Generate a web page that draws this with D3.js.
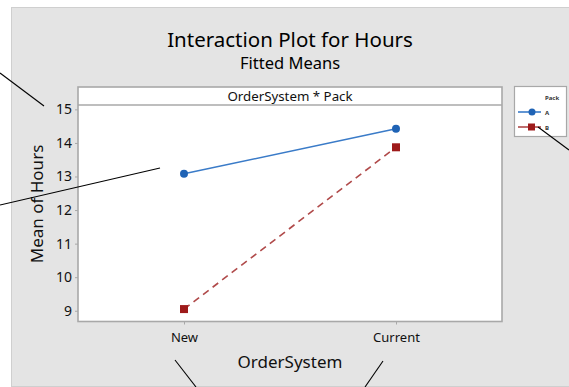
<!DOCTYPE html>
<html>
<head>
<meta charset="utf-8">
<script src="https://cdn.jsdelivr.net/npm/d3@7"></script>
<style>
  html, body { margin: 0; padding: 0; background: #ffffff; }
  svg { display: block; font-family: "Noto Sans", "Open Sans", sans-serif; }
</style>
</head>
<body>
<svg id="chart" width="569" height="387"></svg>
<script>
// Fitted means of Hours by OrderSystem, one line per Pack level
const orderSystems = ["New", "Current"];
const packLevels = ["A", "B"];
const meansA = [13.08, 14.42];
const meansB = [9.05, 13.87];
const yTicks = [9, 10, 11, 12, 13, 14, 15];

const seriesColors = { A: "#1f63b5", B: "#9e1a1a" };
const lineColors = { A: "#3a7bc8", B: "#b04a4a" };

const svg = d3.select("#chart");
const W = 569, H = 387;

// outer grey frame
svg.append("rect")
  .attr("x", 11.5).attr("y", 7.5)
  .attr("width", W - 11).attr("height", 379)
  .attr("fill", "#e4e4e4").attr("stroke", "#cfcfcf").attr("stroke-width", 1);

// plotting region
const plot = { left: 78, right: 502, top: 105, bottom: 321.5, stripTop: 87 };

const x = d3.scalePoint().domain(orderSystems)
  .range([plot.left, plot.right]).padding(0.5);
const y = d3.scaleLinear().domain([8.68, 15.13])
  .range([plot.bottom, plot.top]);

// panel background + strip header
svg.append("rect")
  .attr("x", plot.left).attr("y", plot.stripTop)
  .attr("width", plot.right - plot.left).attr("height", plot.bottom - plot.stripTop)
  .attr("fill", "#ffffff").attr("stroke", "#a8a8a8").attr("stroke-width", 1.6);
svg.append("line")
  .attr("x1", plot.left).attr("x2", plot.right)
  .attr("y1", plot.top).attr("y2", plot.top)
  .attr("stroke", "#a8a8a8").attr("stroke-width", 1.6);
svg.append("text")
  .attr("x", (plot.left + plot.right) / 2).attr("y", 100.5)
  .attr("text-anchor", "middle").attr("font-size", 13.3).attr("fill", "#111")
  .text("OrderSystem * Pack");

// y axis
const yAxis = d3.axisLeft(y).tickValues(yTicks).tickFormat(d3.format("d"))
  .tickSize(3).tickPadding(3);
const gy = svg.append("g").attr("transform", `translate(${plot.left},0)`).call(yAxis);
gy.select(".domain").remove();
gy.selectAll(".tick line").attr("stroke", "#a8a8a8");
gy.selectAll(".tick text").attr("font-size", 14).attr("fill", "#111")
  .attr("font-family", "\"Noto Sans\", sans-serif");

// x axis
const xAxis = d3.axisBottom(x).tickSize(3).tickPadding(8);
const gx = svg.append("g").attr("transform", `translate(0,${plot.bottom})`).call(xAxis);
gx.select(".domain").remove();
gx.selectAll(".tick line").attr("stroke", "#a8a8a8");
gx.selectAll(".tick text").attr("font-size", 13).attr("fill", "#111")
  .attr("font-family", "\"Noto Sans\", sans-serif");

// titles
svg.append("text").attr("x", 290).attr("y", 47)
  .attr("text-anchor", "middle").attr("font-size", 20.5).attr("fill", "#000")
  .text("Interaction Plot for Hours");
svg.append("text").attr("x", 290).attr("y", 69)
  .attr("text-anchor", "middle").attr("font-size", 16.5).attr("fill", "#000")
  .text("Fitted Means");
svg.append("text").attr("x", 290).attr("y", 368)
  .attr("text-anchor", "middle").attr("font-size", 17).attr("fill", "#111")
  .text("OrderSystem");
svg.append("text")
  .attr("transform", "translate(43,204) rotate(-90)")
  .attr("text-anchor", "middle").attr("font-size", 17).attr("fill", "#111")
  .text("Mean of Hours");

// series
const series = [
  { key: "A", values: meansA, dash: null, shape: "circle" },
  { key: "B", values: meansB, dash: "7,5", shape: "square" }
];
const line = d3.line().x(d => x(d.cat)).y(d => y(d.val));

series.forEach(s => {
  const pts = orderSystems.map((c, i) => ({ cat: c, val: s.values[i] }));
  svg.append("path").datum(pts)
    .attr("d", line).attr("fill", "none")
    .attr("stroke", lineColors[s.key]).attr("stroke-width", 1.6)
    .attr("stroke-dasharray", s.dash);
  const g = svg.append("g");
  pts.forEach(p => {
    if (s.shape === "circle") {
      g.append("circle").attr("cx", x(p.cat)).attr("cy", y(p.val)).attr("r", 4)
        .attr("fill", seriesColors[s.key]);
    } else {
      g.append("rect").attr("x", x(p.cat) - 4).attr("y", y(p.val) - 4)
        .attr("width", 8).attr("height", 8).attr("fill", seriesColors[s.key]);
    }
  });
});

// legend
const lg = svg.append("g");
lg.append("rect").attr("x", 514.5).attr("y", 86.5).attr("width", 52).attr("height", 50)
  .attr("fill", "#ffffff").attr("stroke", "#a8a8a8").attr("stroke-width", 1.2);
lg.append("text").attr("x", 545).attr("y", 100).attr("font-size", 6)
  .attr("font-weight", "bold").attr("fill", "#333").text("Pack");
const legY = [112, 127];
series.forEach((s, i) => {
  lg.append("line").attr("x1", 518).attr("x2", 541).attr("y1", legY[i]).attr("y2", legY[i])
    .attr("stroke", lineColors[s.key]).attr("stroke-width", 1.6);
  if (s.shape === "circle") {
    lg.append("circle").attr("cx", 532).attr("cy", legY[i]).attr("r", 3.5)
      .attr("fill", seriesColors[s.key]);
  } else {
    lg.append("rect").attr("x", 528).attr("y", legY[i] - 3.5)
      .attr("width", 7).attr("height", 7).attr("fill", seriesColors[s.key]);
  }
  lg.append("text").attr("x", 545).attr("y", legY[i] + 2.5).attr("font-size", 6)
    .attr("font-weight", "bold").attr("fill", "#333").text(packLevels[i]);
});

// callout lines
const callouts = [
  [[0, 73], [44, 106]],
  [[0, 205], [160, 168]],
  [[175, 360], [196, 387]],
  [[383, 361], [365, 387]],
  [[538, 127], [569, 150]]
];
svg.append("g").selectAll("line").data(callouts).join("line")
  .attr("x1", d => d[0][0]).attr("y1", d => d[0][1])
  .attr("x2", d => d[1][0]).attr("y2", d => d[1][1])
  .attr("stroke", "#000").attr("stroke-width", 1.1);
</script>
</body>
</html>
